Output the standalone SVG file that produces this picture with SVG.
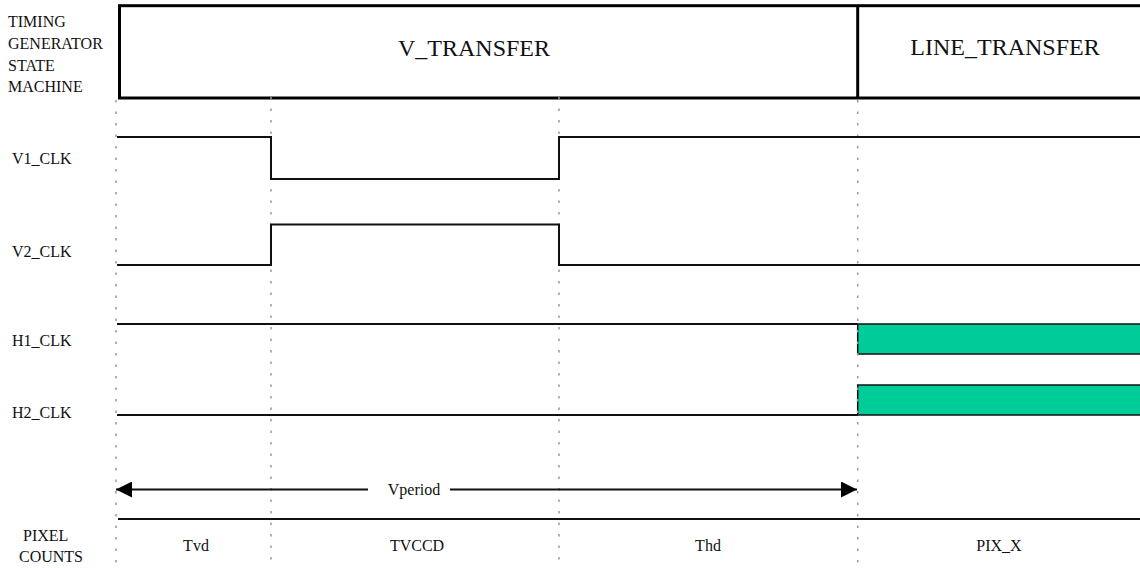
<svg xmlns="http://www.w3.org/2000/svg" width="1140" height="568" viewBox="0 0 1140 568">
<defs>
<style>
.t{font-family:"Liberation Serif","Times New Roman",serif;font-size:16px;fill:#111}
.big{font-size:24px}
.sig{fill:none;stroke:#111;stroke-width:2}
.dot{fill:none;stroke:#999;stroke-width:1.5;stroke-dasharray:2.5 9}
.box{fill:none;stroke:#000;stroke-width:3}
.h{fill:#00CC99;stroke:#111;stroke-width:1.5}
</style>
<marker id="ah" viewBox="0 0 16 16" refX="16" refY="8" markerWidth="16" markerHeight="16" markerUnits="userSpaceOnUse" orient="auto-start-reverse">
<path d="M0,0 L16,8 L0,16 Z" fill="#000"/>
</marker>
</defs>
<rect width="1140" height="568" fill="#fff"/>

<g id="labels">
<text class="t" x="8" y="27">TIMING</text>
<text class="t" x="8" y="49">GENERATOR</text>
<text class="t" x="8" y="71">STATE</text>
<text class="t" x="8" y="92">MACHINE</text>
<text class="t" x="12" y="164">V1_CLK</text>
<text class="t" x="12" y="257">V2_CLK</text>
<text class="t" x="12" y="346">H1_CLK</text>
<text class="t" x="12" y="418">H2_CLK</text>
<text class="t" x="23" y="541">PIXEL</text>
<text class="t" x="19" y="562">COUNTS</text>
</g>

<g id="state-machine">
<rect class="box" x="119.5" y="5.7" width="1040" height="92.3"/>
<line class="box" x1="857.7" y1="5.7" x2="857.7" y2="98"/>
<text class="t big" x="474" y="56" text-anchor="middle">V_TRANSFER</text>
<text class="t big" x="1005" y="55" text-anchor="middle">LINE_TRANSFER</text>
</g>

<g id="h-bursts">
<rect class="h" x="857.7" y="324" width="300" height="30"/>
<rect class="h" x="857.7" y="385" width="300" height="30"/>
</g>

<g id="connectors">
<line class="dot" x1="116" y1="100" x2="116" y2="568"/>
<line class="dot" x1="271" y1="97" x2="271" y2="568"/>
<line class="dot" x1="559" y1="97" x2="559" y2="568"/>
<line class="dot" x1="857.7" y1="100" x2="857.7" y2="568"/>
</g>

<g id="v1-clk">
<polyline class="sig" points="117,137 271,137 271,179 559,179 559,137 1140,137"/>
</g>
<g id="v2-clk">
<polyline class="sig" points="117,265 271,265 271,224.5 559,224.5 559,265 1140,265"/>
</g>
<g id="h1-clk">
<line class="sig" x1="117" y1="324" x2="857.7" y2="324"/>
</g>
<g id="h2-clk">
<line class="sig" x1="117" y1="415" x2="857.7" y2="415"/>
</g>

<g id="vperiod">
<line class="sig" x1="368" y1="489.5" x2="116" y2="489.5" marker-end="url(#ah)"/>
<line class="sig" x1="450" y1="489.5" x2="857" y2="489.5" marker-end="url(#ah)"/>
<text class="t" x="414" y="495" text-anchor="middle">Vperiod</text>
</g>

<g id="pixel-counts">
<line class="sig" x1="118" y1="519" x2="1140" y2="519"/>
<text class="t" x="196" y="551" text-anchor="middle">Tvd</text>
<text class="t" x="417" y="551" text-anchor="middle">TVCCD</text>
<text class="t" x="708" y="551" text-anchor="middle">Thd</text>
<text class="t" x="999" y="551" text-anchor="middle">PIX_X</text>
</g>
</svg>
